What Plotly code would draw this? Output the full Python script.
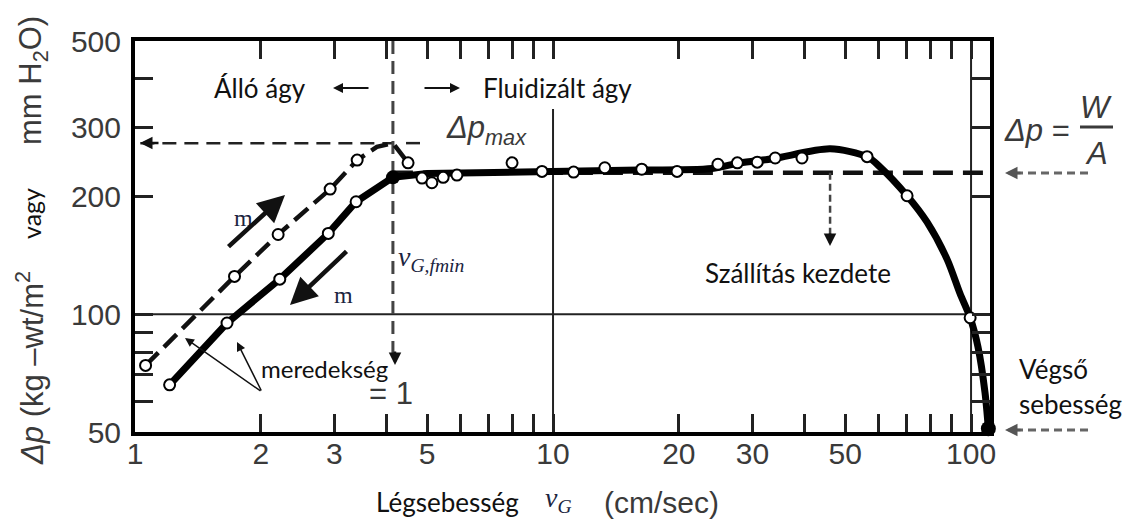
import math
import plotly.graph_objects as go

# ---- measured data (gas velocity v_G in cm/s, pressure drop in kg-wt/m^2) ----
# packed bed, increasing gas flow (dashed branch)
up_v = [1.06, 1.73, 2.20, 2.93, 3.40]
up_dp = [74, 125, 160, 209, 248]
# dashed branch continues to the pressure peak and drops into the fluidized bed
up_tail_v = [3.79, 4.14, 4.50]
up_tail_dp = [268, 274, 244]

# packed bed, decreasing gas flow (solid branch)
down_v = [1.21, 1.66, 2.22, 2.90, 3.38]
down_dp = [66, 95, 123, 161, 194]

# minimum fluidization point
fmin_v = 4.14
fmin_dp = 224

# fluidized bed measurements
fluid_v = [4.50, 4.86, 5.13, 5.46, 5.89, 7.98, 9.41, 11.2, 13.3, 16.3, 19.8,
           24.8, 27.6, 30.8, 34.0, 39.4, 56.4, 70.3, 99.5]
fluid_dp = [244, 223, 217, 224, 227, 244, 232, 231, 237, 235, 232,
            242, 244, 245, 251, 251, 253, 201, 98]

# smoothed curve through the fluidized / transport region
curve_v = [16.1, 24, 28, 33.6, 46, 56.4, 60.6, 70.3, 78.5, 87.7, 94.1, 99.5, 103.9, 108, 110]
curve_dp = [234, 236, 244, 250, 265, 253, 238, 201, 172, 138, 113, 98, 82.5, 63, 51]
plateau_v = [4.14, 5.0, 8.0, 12, 16.1]
plateau_dp = [224, 229, 231, 231, 234]

# terminal velocity point
term_v = 110
term_dp = 51

dp_max = 274        # peak pressure drop
dp_wa = 230         # W/A, bed weight per area
v_transport = 46    # onset of transport

x_ticks = [1, 2, 3, 4, 5, 6, 7, 8, 9, 10, 20, 30, 40, 50, 60, 70, 80, 90, 100]
x_labels = ["1", "2", "3", "", "5", "", "", "", "", "10", "20", "30", "", "50", "", "", "", "", "100"]
y_ticks = [50, 60, 70, 80, 90, 100, 200, 300, 400, 500]
y_labels = ["50", "", "", "", "", "100", "200", "300", "", "500"]

X_MIN, X_MAX = 1, 111
Y_MIN, Y_MAX = 50, 500

# ---- layout geometry (pixels) ----
W, H = 1125, 522
L, T, R, B = 135, 41, 135, 90
PW, PH = W - L - R, H - T - B


def ppx(x):
    return (x - L) / PW


def ppy(y):
    return (T + PH - y) / PH


SANS = "Liberation Sans, Arial, sans-serif"
HUM = "Lato, Open Sans, sans-serif"
SERIF = "Liberation Serif, Times New Roman, serif"
GRAY = "#3a3a3a"
NAVY = "#1b2440"

fig = go.Figure()

# reference lines of the log grid
fig.add_trace(go.Scatter(x=[10, 10], y=[Y_MIN, 335], mode="lines",
                         line=dict(color="#222", width=2), hoverinfo="skip"))
fig.add_trace(go.Scatter(x=[100, 100], y=[Y_MIN, Y_MAX], mode="lines",
                         line=dict(color="#222", width=2), hoverinfo="skip"))
fig.add_trace(go.Scatter(x=[X_MIN, X_MAX], y=[100, 100], mode="lines",
                         line=dict(color="#222", width=2), hoverinfo="skip"))

# dashed guides
fig.add_trace(go.Scatter(x=[1.03, fmin_v], y=[dp_max, dp_max], mode="lines",
                         line=dict(color="#222", width=2.5, dash="14px,8px"), hoverinfo="skip"))
fig.add_trace(go.Scatter(x=[4.45, 5.0], y=[dp_max, dp_max], mode="lines",
                         line=dict(color="#222", width=2.5, dash="14px,8px"), hoverinfo="skip"))
fig.add_trace(go.Scatter(x=[fmin_v, X_MAX], y=[dp_wa, dp_wa], mode="lines",
                         line=dict(color="#111", width=4.5, dash="20px,10px"), hoverinfo="skip"))
fig.add_trace(go.Scatter(x=[fmin_v, fmin_v], y=[Y_MAX, 76], mode="lines",
                         line=dict(color="#444", width=3, dash="13px,7px"), hoverinfo="skip"))
fig.add_trace(go.Scatter(x=[v_transport, v_transport], y=[dp_wa, 155], mode="lines",
                         line=dict(color="#444", width=2.5, dash="7px,4px"), hoverinfo="skip"))

# increasing-flow branch (dashed)
fig.add_trace(go.Scatter(x=up_v + up_tail_v, y=up_dp + up_tail_dp, mode="lines",
                         line=dict(color="#111", width=4.5, dash="18px,8px"), hoverinfo="skip"))

# decreasing-flow branch and fluidized plateau (solid)
fig.add_trace(go.Scatter(x=down_v + [fmin_v] + plateau_v[1:], y=down_dp + [fmin_dp] + plateau_dp[1:],
                         mode="lines", line=dict(color="#000", width=7), hoverinfo="skip"))
fig.add_trace(go.Scatter(x=curve_v, y=curve_dp, mode="lines",
                         line=dict(color="#000", width=7, shape="spline", smoothing=0.8),
                         hoverinfo="skip"))

# open-circle measurements
circle = dict(symbol="circle", size=11, color="white", line=dict(color="#000", width=2))
fig.add_trace(go.Scatter(x=up_v, y=up_dp, mode="markers", marker=circle, cliponaxis=False))
fig.add_trace(go.Scatter(x=down_v, y=down_dp, mode="markers", marker=circle, cliponaxis=False))
fig.add_trace(go.Scatter(x=fluid_v, y=fluid_dp, mode="markers", marker=circle, cliponaxis=False))

# filled points: minimum fluidization and terminal velocity
fig.add_trace(go.Scatter(x=[fmin_v], y=[fmin_dp], mode="markers",
                         marker=dict(size=14, color="#000"), cliponaxis=False))
fig.add_trace(go.Scatter(x=[term_v], y=[term_dp], mode="markers",
                         marker=dict(size=15, color="#000"), cliponaxis=False))

ann = []


def text(s, x, y, size, family=HUM, color="#111", xanchor="center", **kw):
    ann.append(dict(text=s, x=ppx(x), y=ppy(y), xref="paper", yref="paper",
                    xanchor=xanchor, yanchor="middle",
                    showarrow=False, font=dict(size=size, family=family, color=color), **kw))


def arrow(hx, hy, tx, ty, width=2, size=1.0, head=2, color="#111"):
    ann.append(dict(text="", x=ppx(hx), y=ppy(hy), xref="paper", yref="paper",
                    ax=tx - hx, ay=ty - hy, showarrow=True, arrowhead=head,
                    arrowsize=size, arrowwidth=width, arrowcolor=color))


# region labels
text("Álló ágy", 260, 88, 26)
text("Fluidizált ágy", 557, 88, 26, bgcolor="white")
arrow(333, 88, 370, 88, width=2, size=1)
arrow(460, 88, 423, 88, width=2, size=1)

text("<i>Δp</i><sub><i>max</i></sub>", 486, 130, 31, family=SANS, color=GRAY)
arrow(140, 143, 160, 143, width=2.5, size=1)

# v_G,fmin marker
text("<i>v</i><sub><i>G,fmin</i></sub>", 396, 258, 28, family=SERIF, color=NAVY, xanchor="left")
arrow(395, 365, 395, 350, width=2.5, size=1)

# flow direction arrows
text("m", 243, 218, 24, family=SERIF, color=NAVY)
text("m", 343, 295, 24, family=SERIF, color=NAVY)
arrow(285, 195, 227, 248, width=4.5, size=1.2)
arrow(290, 305, 348, 250, width=4.5, size=1.2)

# slope note
text("meredekség", 324, 368, 24)
text("= 1", 391, 393, 31, family=SANS, color=GRAY)
arrow(237, 342, 262, 392, width=1.5, size=1.2)
arrow(185, 338, 262, 392, width=1.5, size=1.2)

# transport onset
text("Szállítás kezdete", 798, 273, 26)
arrow(830, 246, 830, 232, width=2.5, size=1)

# W/A formula at the right
text("<i>Δp</i> =", 1037, 130, 31, family=SANS, color=GRAY)
text("<i>W</i>", 1096, 107, 31, family=SANS, color=GRAY)
text("<i>A</i>", 1096, 153, 31, family=SANS, color=GRAY)
arrow(1005, 173, 1022, 173, width=2.5, size=1, color="#555")
arrow(1005, 430, 1022, 430, width=2.5, size=1, color="#555")

# terminal velocity
text("Végső", 1017, 369, 26, xanchor="left")
text("sebesség", 1017, 404, 26, xanchor="left")

# axis titles
text("Légsebesség", 447, 502, 26)
text("<i>v</i><sub><i>G</i></sub>", 558, 499, 28, family=SERIF, color=NAVY)
text("(cm/sec)", 661, 502, 30, family=SANS, color=GRAY)
text("<i>Δp</i> (kg –wt/m<sup>2</sup>", 30, 368, 31, family=SANS, color=GRAY, textangle=-90)
text("vagy", 31, 214, 25, textangle=-90)
text("mm H<sub>2</sub>O)", 33, 81, 31, family=SANS, color=GRAY, textangle=-90)

shapes = [
    # fraction bar of W/A
    dict(type="line", xref="paper", yref="paper", x0=ppx(1080), x1=ppx(1113),
         y0=ppy(127), y1=ppy(127), line=dict(color=GRAY, width=3)),
    # dashed pointers from the right margin
    dict(type="line", xref="paper", yref="paper", x0=ppx(1015), x1=ppx(1088),
         y0=ppy(173), y1=ppy(173), line=dict(color="#666", width=3, dash="8px,5px")),
    dict(type="line", xref="paper", yref="paper", x0=ppx(1015), x1=ppx(1088),
         y0=ppy(430), y1=ppy(430), line=dict(color="#666", width=3, dash="8px,5px")),
]

axis_common = dict(
    type="log", showgrid=False, zeroline=False, showline=True, linecolor="#000",
    linewidth=4, mirror="ticks", ticks="inside", ticklen=18, tickwidth=3,
    tickcolor="#222", tickfont=dict(family=SANS, size=30, color=GRAY),
)

fig.update_layout(
    width=W, height=H, autosize=False,
    margin=dict(l=L, r=R, t=T, b=B, pad=0),
    paper_bgcolor="white", plot_bgcolor="white",
    showlegend=False,
    xaxis=dict(axis_common, range=[math.log10(X_MIN), math.log10(X_MAX)],
               tickvals=x_ticks, ticktext=x_labels, ticklabelstandoff=-8),
    yaxis=dict(axis_common, range=[math.log10(Y_MIN), math.log10(Y_MAX)],
               tickvals=y_ticks, ticktext=y_labels, ticklabelstandoff=4),
    annotations=ann, shapes=shapes,
)

fig.write_html("out.html")
